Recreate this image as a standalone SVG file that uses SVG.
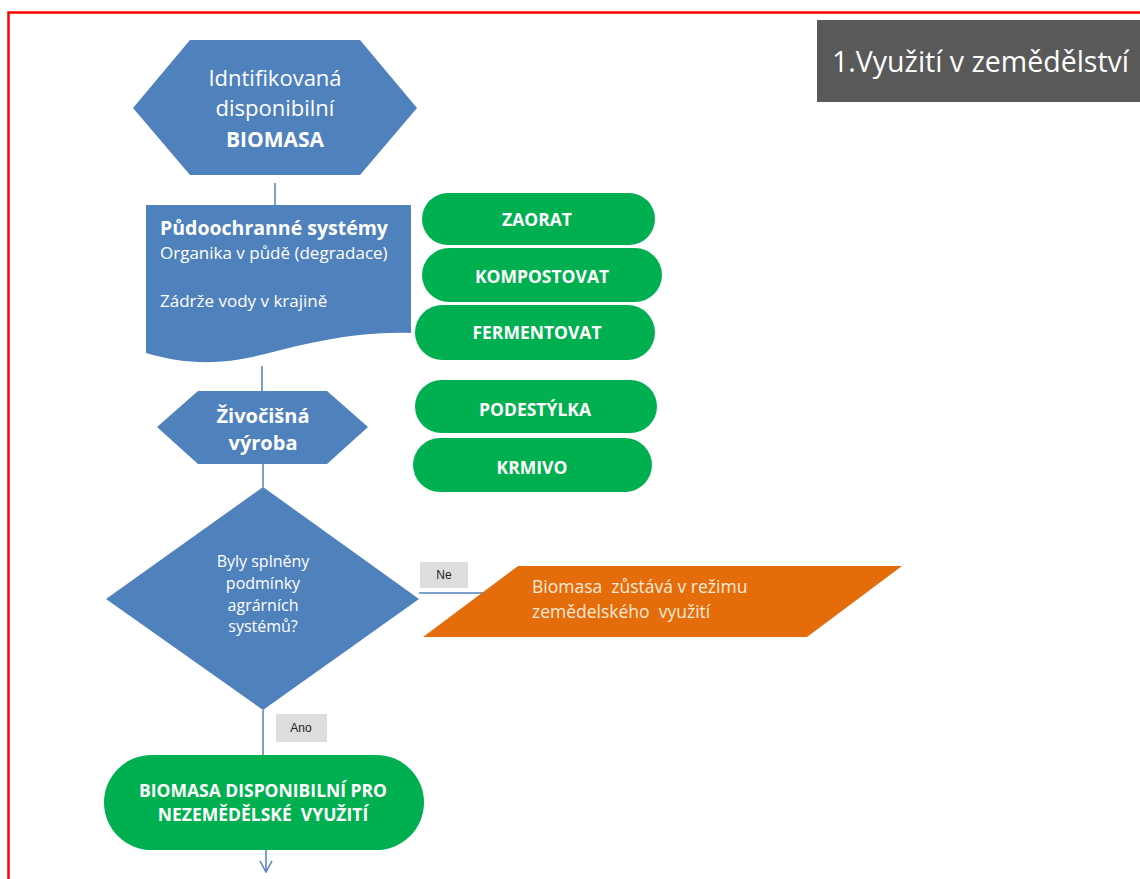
<svg xmlns="http://www.w3.org/2000/svg" width="1140" height="879" viewBox="0 0 1140 879">
<style>
.blue{fill:#4F81BD}
.green{fill:#00B050}
.orange{fill:#E46C0A}
.lbl{fill:#DDDDDD}
.t{font-family:"Open Sans","Liberation Sans",sans-serif;fill:#FFFFFF;white-space:pre}
.b{font-weight:bold}
.c{text-anchor:middle}
.lt{font-family:"Liberation Sans",Arial,sans-serif;font-size:12px;fill:#222222;text-anchor:middle}
.conn{stroke:#4F81BD;stroke-width:1.5;fill:none}
</style>
<defs>
<marker id="open" viewBox="0 0 14 14" refX="13" refY="7" markerWidth="14" markerHeight="14" markerUnits="userSpaceOnUse" orient="auto">
<path d="M2,1 L13,7 L2,13" fill="none" stroke="#4F81BD" stroke-width="1.5"/>
</marker>
</defs>
<rect x="0" y="0" width="1140" height="879" fill="#FFFFFF"/>
<path d="M8.5,879 V12.5 H1140" fill="none" stroke="#FF0000" stroke-width="2.5"/>

<g id="title">
<rect x="817" y="20" width="323" height="82" fill="#595959"/>
<text class="t" x="832" y="72" font-size="28.5">1.Využití v zemědělství</text>
</g>

<g id="connectors">
<line class="conn" x1="275" y1="183" x2="275" y2="205"/>
<line class="conn" x1="262" y1="366" x2="262" y2="391"/>
<line class="conn" x1="263" y1="464" x2="263" y2="487"/>
<line class="conn" x1="419" y1="593" x2="483" y2="593"/>
<line class="conn" x1="263" y1="710" x2="263" y2="755"/>
<line class="conn" x1="266" y1="835" x2="266" y2="872" marker-end="url(#open)"/>
</g>

<g id="node-biomasa">
<polygon class="blue" points="190,40 360,40 417,108 360,175 190,175 133,108"/>
<text class="t c" x="275" y="86" font-size="22">Idntifikovaná</text>
<text class="t c" x="275" y="116" font-size="22">disponibilní</text>
<text class="t c b" x="275" y="147" font-size="21">BIOMASA</text>
</g>

<g id="node-pudoochranne">
<path class="blue" d="M146,205 H411 V333 C360,331 310,342 265,354 C225,364 190,366 146,353 Z"/>
<text class="t b" x="160" y="235" font-size="19.5">Půdoochranné systémy</text>
<text class="t" x="160" y="259" font-size="17">Organika v půdě (degradace)</text>
<text class="t" x="160" y="307" font-size="17">Zádrže vody v krajině</text>
</g>

<g id="node-zaorat">
<rect class="green" x="422" y="193" width="233" height="52" rx="26"/>
<text class="t b c" x="537" y="226" font-size="17.5">ZAORAT</text>
</g>
<g id="node-kompostovat">
<rect class="green" x="422" y="248" width="240" height="54" rx="27"/>
<text class="t b c" x="542" y="283" font-size="17.5">KOMPOSTOVAT</text>
</g>
<g id="node-fermentovat">
<rect class="green" x="415" y="305" width="240" height="55" rx="27.5"/>
<text class="t b c" x="537" y="339" font-size="17.5">FERMENTOVAT</text>
</g>
<g id="node-podestylka">
<rect class="green" x="415" y="380" width="242" height="53" rx="26.5"/>
<text class="t b c" x="535" y="416" font-size="17.5">PODESTÝLKA</text>
</g>
<g id="node-krmivo">
<rect class="green" x="413" y="438" width="239" height="54" rx="27"/>
<text class="t b c" x="532" y="474" font-size="17.5">KRMIVO</text>
</g>

<g id="node-zivocisna">
<polygon class="blue" points="198,391 327,391 368,427 327,464 198,464 157,427"/>
<text class="t b c" x="263" y="423" font-size="20">Živočišná</text>
<text class="t b c" x="263" y="450" font-size="20">výroba</text>
</g>

<g id="node-decision">
<polygon class="blue" points="263,487 419,599 263,710 106,599"/>
<text class="t c" x="263" y="567" font-size="16">Byly splněny</text>
<text class="t c" x="263" y="589" font-size="16">podmínky</text>
<text class="t c" x="263" y="611" font-size="16">agrárních</text>
<text class="t c" x="263" y="632" font-size="16">systémů?</text>
</g>

<g id="label-ne">
<rect class="lbl" x="420" y="562" width="48" height="26"/>
<text class="lt" x="444" y="579">Ne</text>
</g>

<g id="node-zemedelske">
<polygon class="orange" points="518,566 902,566 807,637 423,637"/>
<text class="t" x="532" y="593" font-size="17.5" style="fill:#FDEADA">Biomasa  zůstává v režimu</text>
<text class="t" x="532" y="618" font-size="17.5" style="fill:#FDEADA">zemědelského  využití</text>
</g>

<g id="label-ano">
<rect class="lbl" x="276" y="714" width="51" height="28"/>
<text class="lt" x="301" y="732">Ano</text>
</g>

<g id="node-nezemedelske">
<rect class="green" x="104" y="755" width="320" height="95" rx="47.5"/>
<text class="t b c" x="263" y="797" font-size="17.5">BIOMASA DISPONIBILNÍ PRO</text>
<text class="t b c" x="263" y="821" font-size="17.5">NEZEMĚDĚLSKÉ  VYUŽITÍ</text>
</g>
</svg>
